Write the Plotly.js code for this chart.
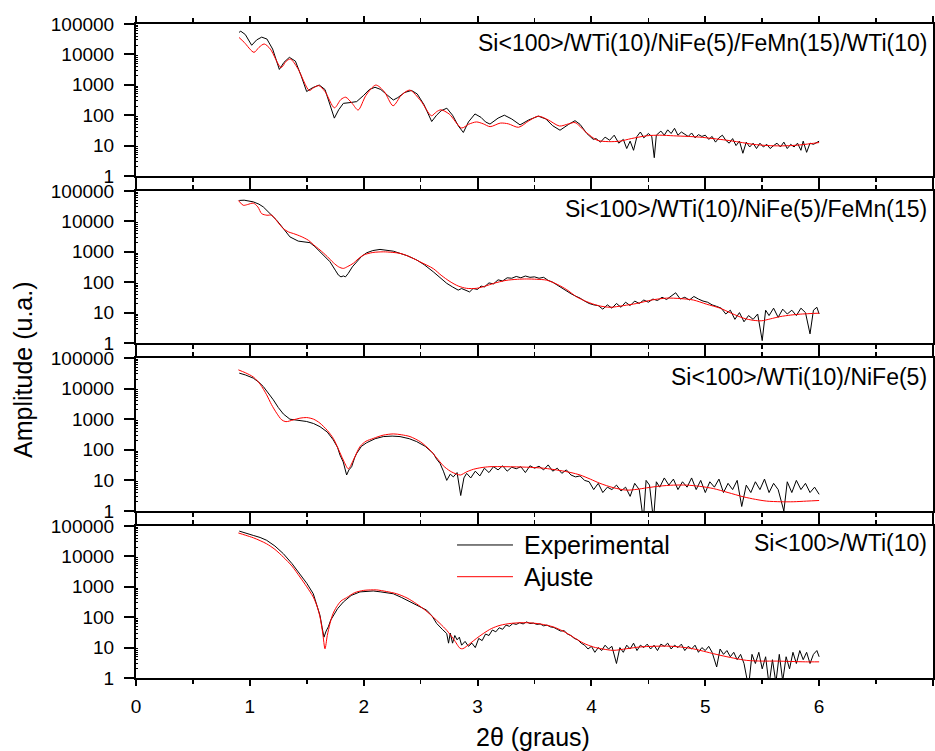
<!DOCTYPE html>
<html>
<head>
<meta charset="utf-8">
<script src="https://cdn.plot.ly/plotly-3.0.1.min.js"></script>
<style>html,body{margin:0;padding:0;background:#fff;}#chart{width:935px;height:751px;}</style>
</head>
<body>
<div id="chart"></div>
<script>
// ---------- data (2θ in degrees, amplitude in a.u.) ----------
const panelLabels = [
  "Si<100>/WTi(10)/NiFe(5)/FeMn(15)/WTi(10)",
  "Si<100>/WTi(10)/NiFe(5)/FeMn(15)",
  "Si<100>/WTi(10)/NiFe(5)",
  "Si<100>/WTi(10)"
];
const seriesNames = ["Experimental", "Ajuste"];
const yTickVals = [1, 10, 100, 1000, 10000, 100000];
const yTickText = ["1", "10", "100", "1000", "10000", "100000"];
const xTickVals = [0, 1, 2, 3, 4, 5, 6, 7];

// Panel 1
const p1ExpX = [0.905,0.92,0.96,1.016,1.06,1.104,1.15,1.20,1.259,1.30,1.347,1.40,1.45,1.499,1.55,1.61,1.66,1.70,1.742,1.78,1.821,1.88,1.938,2.00,2.05,2.099,2.15,2.21,2.26,2.30,2.36,2.42,2.47,2.53,2.597,2.64,2.68,2.73,2.78,2.83,2.875,2.92,2.977,3.03,3.07,3.109,3.18,3.235,3.30,3.373,3.45,3.533,3.60,3.66,3.724,3.80,3.856,3.90,3.96,4.016,
  4.04,4.08,4.12,4.16,4.20,4.24,4.28,4.31,4.34,4.37,4.40,4.43,4.46,4.50,4.53,4.552,4.57,4.61,4.64,4.67,4.70,4.73,4.76,4.79,4.82,4.85,4.88,4.91,4.94,4.97,5.00,5.03,5.06,5.09,5.12,5.15,5.18,5.21,5.24,5.27,5.30,5.33,5.36,5.39,5.42,5.45,5.48,5.51,5.54,5.57,5.60,5.63,5.66,5.69,5.72,5.75,5.78,5.81,5.84,5.86,5.89,5.92,5.95,5.98,6.00];
const p1ExpY = [53000,58000,45000,20000,30000,37000,32000,15000,3200,5500,8000,6000,2000,600,800,980,700,250,80,150,245,260,280,450,700,830,700,450,316,380,560,650,500,220,62,100,140,170,100,45,27,60,110,85,60,51,80,100,75,48,70,93,75,45,32,50,66,50,25,16,
  17,13,19,15,22,12,16,8,14,7,20,28,18,25,20,4,22,30,22,33,25,37,22,28,24,20,26,18,23,20,22,16,20,13,18,22,15,12,17,10,14,5.6,13,9,12,8,12,9,11,8,10,12,9,13,8,11,9,12,7,14,6,12,11,13,14];
const p1FitX = [0.905,0.95,1.036,1.08,1.126,1.18,1.274,1.32,1.357,1.42,1.522,1.56,1.605,1.66,1.743,1.80,1.842,1.90,1.951,2.02,2.106,2.18,2.258,2.33,2.404,2.50,2.595,2.64,2.678,2.75,2.86,2.92,2.99,3.05,3.11,3.20,3.27,3.36,3.45,3.533,3.62,3.72,3.80,3.856,3.95,4.05,4.15,4.25,4.35,4.485,4.60,4.72,4.85,4.95,5.07,5.19,5.30,5.42,5.55,5.66,5.75,5.83,5.92,6.00];
const p1FitY = [36000,25000,11700,17000,22000,15000,3700,6000,7000,3500,650,800,940,600,175,330,390,240,148,450,980,600,205,450,670,300,96,130,150,110,38,50,60,52,42,55,52,40,65,93,70,44,52,57,28,15,13.5,14,17,21,22,21,20,19,17,15,13,11,10,9.8,10,10.5,11.5,12.6];

// Panel 2
const p2ExpX = [0.907,0.95,1.03,1.08,1.118,1.18,1.235,1.30,1.352,1.425,1.528,1.57,1.616,1.66,1.704,1.75,1.777,1.80,1.821,1.84,1.864,1.90,1.938,1.98,2.026,2.08,2.143,2.20,2.26,2.319,2.38,2.465,2.53,2.611,2.67,2.729,2.78,2.83,2.86,
  2.90,2.93,2.96,3.00,3.03,3.06,3.10,3.14,3.18,3.22,3.26,3.30,3.34,3.38,3.42,3.46,3.50,3.54,3.58,3.62,3.66,3.70,3.74,3.78,3.82,3.86,3.90,3.94,3.98,4.02,4.06,4.10,4.14,4.18,4.22,4.26,4.30,4.34,4.38,4.42,4.46,4.50,4.54,4.58,4.62,4.66,4.70,4.74,4.78,4.82,4.86,4.90,4.94,4.98,5.02,5.06,5.10,5.14,5.18,5.22,5.26,5.30,5.34,5.38,5.42,5.46,5.50,5.53,5.56,5.60,5.64,5.68,5.72,5.76,5.80,5.84,5.88,5.92,5.95,5.98,6.00];
const p2ExpY = [49000,50000,44000,37000,30000,18000,11000,5500,3100,2250,2000,1500,1000,700,470,250,173,150,161,150,195,320,470,700,930,1100,1200,1150,1050,890,750,540,380,220,140,92,70,55,62,
  55,48,62,58,75,70,95,88,120,110,140,135,155,140,160,145,150,135,145,115,100,80,65,50,42,35,30,24,20,18,17,13,18,14,20,15,22,17,24,20,26,22,28,25,32,27,35,45,28,32,26,34,28,24,22,18,16,14,9,12,6,10,5,8,6,9,1.2,12,8,14,7,13,9,12,8,14,10,2,12,15,9];
const p2FitX = [0.899,0.942,0.98,1.03,1.07,1.104,1.15,1.192,1.24,1.294,1.34,1.382,1.45,1.514,1.56,1.616,1.68,1.733,1.78,1.821,1.86,1.909,1.95,1.997,2.08,2.172,2.25,2.319,2.40,2.494,2.611,2.68,2.758,2.83,2.903,2.99,3.07,3.138,3.25,3.35,3.431,3.52,3.607,3.70,3.783,3.87,3.958,4.06,4.163,4.28,4.398,4.53,4.661,4.78,4.895,5.01,5.13,5.23,5.334,5.42,5.496,5.57,5.657,5.75,5.833,5.92,6.00];
const p2FitY = [49000,34000,36000,40000,30000,18000,16000,16000,10000,5800,4500,4000,3200,2400,1700,1150,700,440,320,285,330,420,580,780,950,1000,960,890,700,470,280,170,105,75,63,63,75,91,115,125,128,125,117,85,57,33,23,17,15,17,20,26,30,29,26,19,14,9.5,6.6,5.6,5.4,6.2,7.4,8.3,8.9,9.3,9.6];

// Panel 3
const p3ExpX = [0.907,0.96,1.03,1.08,1.118,1.16,1.206,1.25,1.294,1.352,1.42,1.499,1.56,1.616,1.68,1.733,1.77,1.792,1.82,1.85,1.87,1.894,1.92,1.938,1.98,2.026,2.10,2.172,2.25,2.319,2.40,2.465,2.54,2.611,2.64,2.67,2.70,2.729,2.76,2.787,2.82,2.852,2.88,2.904,
  2.94,2.98,3.02,3.06,3.10,3.14,3.18,3.22,3.26,3.30,3.34,3.38,3.42,3.46,3.50,3.54,3.58,3.62,3.66,3.70,3.74,3.78,3.82,3.86,3.90,3.94,3.98,4.02,4.06,4.10,4.14,4.18,4.22,4.26,4.30,4.34,4.38,4.42,4.456,4.48,4.51,4.545,4.57,4.60,4.64,4.68,4.72,4.76,4.80,4.84,4.88,4.92,4.96,5.00,5.04,5.08,5.12,5.16,5.20,5.24,5.28,5.32,5.36,5.40,5.44,5.48,5.52,5.56,5.60,5.64,5.69,5.72,5.76,5.80,5.84,5.88,5.92,5.96,6.00];
const p3ExpY = [32000,28000,22000,16000,11700,7500,4300,2400,1480,1000,920,840,720,570,380,210,120,67,40,15,22,28,55,76,130,170,230,270,280,270,230,185,130,76,50,36,20,10,16,13,18,3.2,12,17,
  12,20,14,25,18,28,22,30,20,27,24,28,18,30,25,29,22,32,20,25,17,22,15,13,14,10,9,5,8,4,6,5,7,4.5,6,3,8,5,0.5,10,7,0.5,9,6,12,7,11,5,9,6,12,5,10,4,9,6,11,4,8,5,10,1.4,7,4,9,5,11,4,8,5,1,9,4,10,5,8,4,6,3.5];
const p3FitX = [0.899,0.96,1.03,1.09,1.147,1.19,1.235,1.28,1.317,1.382,1.44,1.499,1.56,1.616,1.68,1.733,1.78,1.821,1.865,1.909,1.967,2.02,2.084,2.17,2.26,2.33,2.407,2.50,2.582,2.64,2.699,2.76,2.816,2.85,2.904,2.963,3.03,3.109,3.25,3.431,3.58,3.724,3.82,3.90,3.99,4.075,4.19,4.309,4.40,4.485,4.60,4.72,4.837,4.95,5.071,5.20,5.334,5.44,5.539,5.66,5.773,5.89,6.00];
const p3FitY = [41000,33000,24000,14000,6300,3000,1580,950,830,950,1080,1130,1000,740,430,235,100,46,24,46,127,190,235,300,330,310,270,180,98,55,30,20,16,15,19,23,26,28,28,27,25,21,18,15,11,8,5.8,4.8,5.1,5.7,6.5,7,7,6.4,5.4,4,2.9,2.4,2.1,2.0,2.0,2.1,2.2];

// Panel 4
const p4ExpX = [0.907,0.96,1.03,1.09,1.147,1.22,1.294,1.37,1.44,1.50,1.557,1.59,1.616,1.635,1.651,1.67,1.689,1.71,1.733,1.77,1.821,1.89,1.967,2.02,2.084,2.15,2.20,2.26,2.33,2.407,2.48,2.553,2.60,2.641,2.69,2.729,2.745,2.76,
  2.78,2.80,2.82,2.84,2.86,2.89,2.92,2.95,2.98,3.01,3.04,3.07,3.10,3.13,3.16,3.19,3.22,3.25,3.28,3.31,3.34,3.37,3.40,3.43,3.46,3.49,3.52,3.55,3.58,3.61,3.64,3.67,3.70,3.73,3.76,3.79,3.82,3.85,3.88,3.91,3.94,3.97,4.00,4.03,4.06,4.09,4.12,4.15,4.18,4.22,
  4.25,4.28,4.31,4.34,4.37,4.40,4.43,4.46,4.49,4.52,4.55,4.58,4.61,4.64,4.67,4.70,4.73,4.76,4.79,4.82,4.85,4.88,4.91,4.94,4.97,5.00,5.03,5.06,5.10,5.13,5.16,5.19,5.22,5.25,5.28,5.31,5.34,5.38,
  5.41,5.44,5.47,5.50,5.53,5.56,5.59,5.62,5.65,5.68,5.71,5.74,5.77,5.80,5.83,5.86,5.89,5.92,5.95,5.98,6.00];
const p4ExpY = [68000,58000,49000,42000,34000,22000,12300,5800,2700,1300,590,250,115,45,22,35,48,80,115,190,316,520,680,720,730,680,650,590,450,316,230,170,110,62,40,29,14,30,
  14,25,18,22,12,16,11,14,10,20,17,28,25,38,33,45,40,55,50,62,58,66,60,70,62,64,58,60,52,55,48,46,40,35,36,28,25,20,18,14,12,9,11,7,10,8,12,9,11,3,
  10,7,12,9,14,8,12,10,13,9,12,8,13,11,14,9,12,10,13,8,11,9,12,7,10,8,11,7,2.3,9,6,8,5,7,4,6,3,0.5,
  6,3,7,2,5,0.6,4,0.7,6,0.8,5,2,7,3,8,4,7,3,6,8,5];
const p4FitX = [0.899,0.96,1.03,1.09,1.147,1.22,1.294,1.37,1.44,1.50,1.557,1.59,1.616,1.64,1.66,1.68,1.704,1.73,1.762,1.80,1.85,1.92,1.997,2.06,2.114,2.20,2.29,2.38,2.465,2.54,2.611,2.67,2.729,2.79,2.846,2.87,2.933,2.99,3.05,3.12,3.197,3.30,3.431,3.55,3.665,3.75,3.841,3.93,4.016,4.10,4.192,4.31,4.426,4.54,4.661,4.78,4.895,5.01,5.13,5.25,5.364,5.50,5.628,5.75,5.88,6.00];
const p4FitY = [59000,50000,41000,33000,26000,17000,9500,4800,2100,1000,460,230,102,30,9.1,25,62,130,220,340,440,640,760,790,790,700,590,430,274,170,100,62,37,19,9.5,9.2,13.5,20,29,42,54,63,66,60,48,35,22,14,10.5,9,8.1,9.2,10.5,11,11.2,10.5,9.1,7.2,5.6,4.5,3.8,3.6,3.6,3.5,3.4,3.4];

// ---------- build figure ----------
const panels = [
  {ex: p1ExpX, ey: p1ExpY, fx: p1FitX, fy: p1FitY, dom: [0.7676, 1.0]},
  {ex: p2ExpX, ey: p2ExpY, fx: p2FitX, fy: p2FitY, dom: [0.5122, 0.7446]},
  {ex: p3ExpX, ey: p3ExpY, fx: p3FitX, fy: p3FitY, dom: [0.2554, 0.4893]},
  {ex: p4ExpX, ey: p4ExpY, fx: p4FitX, fy: p4FitY, dom: [0.0, 0.2324]}
];
const FONT = "Liberation Sans, Arial, Helvetica, sans-serif";
const traces = [];
const layout = {
  width: 935, height: 751,
  margin: {l: 136, r: 2, t: 24, b: 73, pad: 0},
  paper_bgcolor: "#ffffff", plot_bgcolor: "#ffffff",
  showlegend: false,
  font: {family: FONT, color: "#000000", size: 19},
  annotations: [], shapes: []
};
const labelY = [0.9709, 0.7171, 0.4607, 0.2064];
panels.forEach((p, i) => {
  const n = i + 1;
  const xa = n === 1 ? "x" : "x" + n;
  const ya = n === 1 ? "y" : "y" + n;
  traces.push({x: p.ex, y: p.ey, xaxis: xa, yaxis: ya, type: "scatter", mode: "lines",
    name: seriesNames[0], line: {color: "#000000", width: 1}});
  traces.push({x: p.fx, y: p.fy, xaxis: xa, yaxis: ya, type: "scatter", mode: "lines",
    name: seriesNames[1], line: {color: "#ff0000", width: 1, shape: "spline", smoothing: 0.8}});
  layout[n === 1 ? "xaxis" : "xaxis" + n] = {
    domain: [0, 1], anchor: ya, range: [0, 7],
    tickmode: "array", tickvals: xTickVals, ticktext: xTickVals.map(String),
    showticklabels: n === 4,
    ticks: "outside", ticklen: 6, tickwidth: 2, tickcolor: "#000",
    minor: {ticks: "outside", tickvals: [0.5,1.5,2.5,3.5,4.5,5.5,6.5], ticklen: 4, tickwidth: 1.5, tickcolor: "#000"},
    showline: true, linewidth: 2, linecolor: "#000", mirror: "ticks",
    showgrid: false, zeroline: false,
    tickfont: {family: FONT, size: 19, color: "#000"}, ticklabelstandoff: 4
  };
  layout[n === 1 ? "yaxis" : "yaxis" + n] = {
    domain: p.dom, anchor: xa, type: "log", range: [0, 5],
    tickmode: "array", tickvals: yTickVals, ticktext: yTickText,
    ticks: "outside", ticklen: 10, tickwidth: 2, tickcolor: "#000",
    minor: {ticks: "inside", ticklen: 2, tickwidth: 1, tickcolor: "#000",
      tickvals: [2,3,4,5,6,7,8,9,20,30,40,50,60,70,80,90,200,300,400,500,600,700,800,900,2000,3000,4000,5000,6000,7000,8000,9000,20000,30000,40000,50000,60000,70000,80000,90000]},
    showline: true, linewidth: 2, linecolor: "#000", mirror: true,
    showgrid: false, zeroline: false,
    tickfont: {family: FONT, size: 19, color: "#000"}, ticklabelstandoff: 6
  };
  layout.annotations.push({xref: "paper", yref: "paper", x: 0.995, y: labelY[i],
    xanchor: "right", yanchor: "middle", showarrow: false, text: panelLabels[i].replace(/</g, "&lt;").replace(/>/g, "&gt;"),
    font: {family: FONT, size: 23, color: "#000"}});
});
// legend drawn in the bottom panel
layout.shapes.push({type: "line", xref: "paper", yref: "paper", x0: 0.4028, x1: 0.473, y0: 0.2034, y1: 0.2034, line: {color: "#000", width: 1}});
layout.shapes.push({type: "line", xref: "paper", yref: "paper", x0: 0.4028, x1: 0.473, y0: 0.1549, y1: 0.1549, line: {color: "#ff0000", width: 1}});
layout.annotations.push({xref: "paper", yref: "paper", x: 0.4843, y: 0.2034, xanchor: "left", yanchor: "middle", showarrow: false,
  text: seriesNames[0], font: {family: FONT, size: 25, color: "#000"}});
layout.annotations.push({xref: "paper", yref: "paper", x: 0.4843, y: 0.1549, xanchor: "left", yanchor: "middle", showarrow: false,
  text: seriesNames[1], font: {family: FONT, size: 25, color: "#000"}});
// axis titles
layout.annotations.push({xref: "paper", yref: "paper", x: 0.498, y: -0.0902, xanchor: "center", yanchor: "middle", showarrow: false,
  text: "2θ (graus)", font: {family: FONT, size: 25, color: "#000"}});
layout.annotations.push({xref: "paper", yref: "paper", x: -0.1418, y: 0.471, xanchor: "center", yanchor: "middle", showarrow: false,
  textangle: -90, text: "Amplitude (u.a.)", font: {family: FONT, size: 25, color: "#000"}});

Plotly.newPlot("chart", traces, layout, {staticPlot: true, displayModeBar: false});
</script>
</body>
</html>
